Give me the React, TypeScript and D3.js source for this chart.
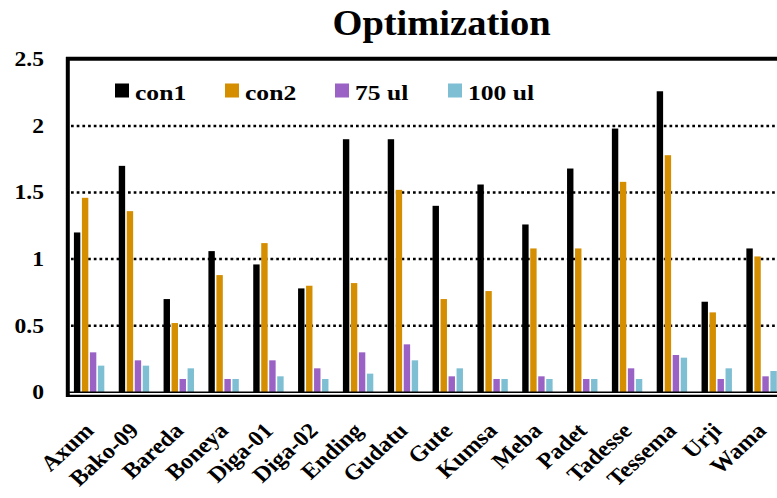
import React from "react";
import * as d3 from "d3";

const categories = [
  "Axum", "Bako-09", "Bareda", "Boneya", "Diga-01", "Diga-02", "Ending", "Gudatu",
  "Gute", "Kumsa", "Meba", "Padet", "Tadesse", "Tessema", "Urji", "Wama",
];
const con1 = [1.2, 1.7, 0.7, 1.06, 0.96, 0.78, 1.9, 1.9, 1.4, 1.56, 1.26, 1.68, 1.98, 2.26, 0.68, 1.08];
const con2 = [1.46, 1.36, 0.52, 0.88, 1.12, 0.8, 0.82, 1.52, 0.7, 0.76, 1.08, 1.08, 1.58, 1.78, 0.6, 1.02];
const ul75 = [0.3, 0.24, 0.1, 0.1, 0.24, 0.18, 0.3, 0.36, 0.12, 0.1, 0.12, 0.1, 0.18, 0.28, 0.1, 0.12];
const ul100 = [0.2, 0.2, 0.18, 0.1, 0.12, 0.1, 0.14, 0.24, 0.18, 0.1, 0.1, 0.1, 0.1, 0.26, 0.18, 0.16];
const seriesNames = ["con1", "con2", "75 ul", "100 ul"];
const seriesColors = ["#000000", "#D48E00", "#9B62C6", "#7FBFD3"];
const yTicks = [0, 0.5, 1, 1.5, 2, 2.5];
const gridTicks = [0.5, 1, 1.5, 2];

const W = 777;
const H = 498;
const left = 66.7;
const step = 44.83;
const top = 59.3;
const bottom = 392.3;
const FONT = "'Liberation Serif', 'Times New Roman', serif";

export default function App() {
  const seriesValues = [con1, con2, ul75, ul100];
  const x0 = d3
    .scaleBand<string>()
    .domain(categories)
    .range([left, left + step * categories.length])
    .padding(0);
  const groupW = 32;
  const groupOff = (x0.bandwidth() - groupW) / 2;
  const x1 = d3
    .scaleBand<string>()
    .domain(seriesNames)
    .range([0, groupW])
    .paddingInner(0.2)
    .paddingOuter(0.1);
  const y = d3.scaleLinear().domain([0, 2.5]).range([bottom, top]);

  const legendX = [115, 225, 335, 448];

  return (
    <svg
      width={W}
      height={H}
      style={{ position: "absolute", left: 0, top: 0, background: "#fff" }}
      fontFamily={FONT}
      fontWeight="bold"
    >
      <rect x={0} y={0} width={W} height={H} fill="#fff" />
      {/* title */}
      <text
        transform={`translate(441.5,35) scale(1.1,1)`}
        textAnchor="middle"
        fontSize={35}
        fill="#000"
      >
        Optimization
      </text>

      {/* dotted gridlines */}
      {gridTicks.map((t) => (
        <line
          key={t}
          x1={71}
          x2={W}
          y1={y(t)}
          y2={y(t)}
          stroke="#000"
          strokeWidth={2.5}
          strokeDasharray="2.7 3"
        />
      ))}

      {/* bars */}
      {categories.map((c, i) => (
        <g key={c} transform={`translate(${(x0(c) ?? 0) + groupOff},0)`}>
          {seriesNames.map((s, k) => {
            const v = seriesValues[k][i];
            return (
              <rect
                key={s}
                x={x1(s)}
                y={y(v)}
                width={x1.bandwidth()}
                height={y(0) - y(v)}
                fill={seriesColors[k]}
              />
            );
          })}
        </g>
      ))}

      {/* frame */}
      <line x1={67.8} x2={67.8} y1={57} y2={397} stroke="#000" strokeWidth={4} />
      <line x1={66} x2={W} y1={58.8} y2={58.8} stroke="#000" strokeWidth={4} />
      <line x1={66} x2={W} y1={y(0)} y2={y(0)} stroke="#000" strokeWidth={1.5} />
      <line x1={66} x2={W} y1={y(0) + 3.6} y2={y(0) + 3.6} stroke="#000" strokeWidth={2.4} />

      {/* y tick labels */}
      {yTicks.map((t) => (
        <text
          key={t}
          transform={`translate(44,${y(t)}) scale(1.15,1)`}
          textAnchor="end"
          dominantBaseline="central"
          fontSize={20.5}
          fill="#000"
        >
          {String(t)}
        </text>
      ))}

      {/* category labels */}
      {categories.map((c) => (
        <text
          key={c}
          transform={`translate(${(x0(c) ?? 0) + x0.bandwidth() / 2 + 6},432) scale(1.1,1) rotate(-45)`}
          textAnchor="end"
          fontSize={22}
          fill="#000"
        >
          {c}
        </text>
      ))}

      {/* legend */}
      {seriesNames.map((s, k) => (
        <g key={s}>
          <rect x={legendX[k]} y={83.5} width={14} height={14} fill={seriesColors[k]} />
          <text
            transform={`translate(${legendX[k] + 20},100) scale(1.22,1)`}
            fontSize={21}
            fill="#000"
          >
            {s}
          </text>
        </g>
      ))}
    </svg>
  );
}
